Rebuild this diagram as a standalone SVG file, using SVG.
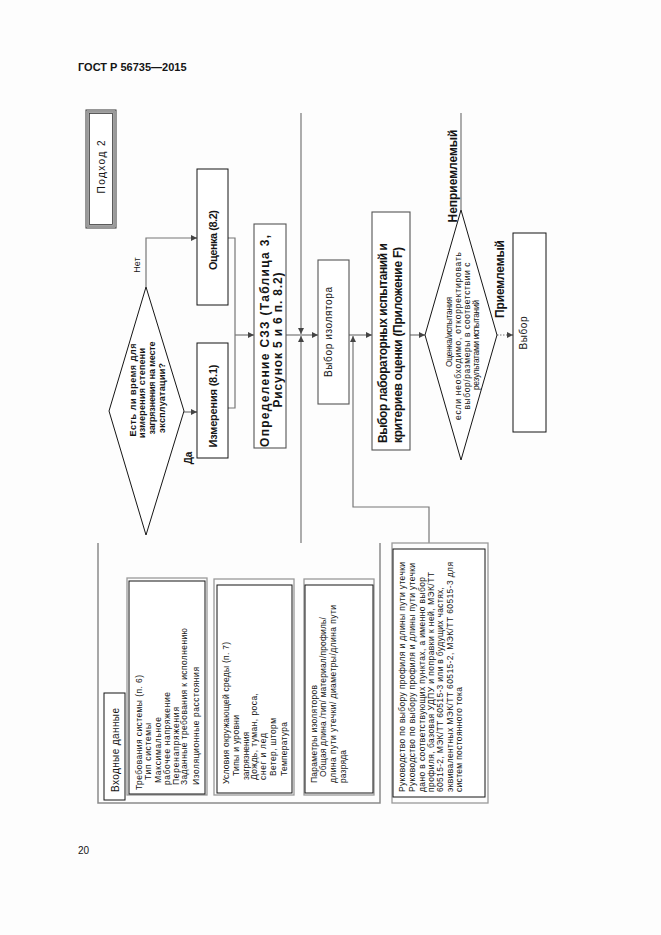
<svg xmlns="http://www.w3.org/2000/svg" width="661" height="935" viewBox="0 0 661 935">
<style>
text { font-family: "Liberation Sans", Arial, sans-serif; fill: #151515; }
.box { fill: #fff; stroke: #151515; stroke-width: 1; }
.gbox { fill: #fff; stroke: #555; stroke-width: 1.1; }
.shadow { fill: none; stroke: #9a9a9a; stroke-width: 1.3; }
.conn { fill: none; stroke: #777; stroke-width: 1.2; }
.b { font-weight: bold; }
.s { font-size: 8.5px; }
.m { text-anchor: middle; }
</style>
<defs>
<marker id="arr" markerWidth="6" markerHeight="6" refX="6" refY="3" orient="auto" markerUnits="userSpaceOnUse">
<path d="M0,0 L6,3 L0,6 z" fill="#444"/>
</marker>
</defs>
<rect width="661" height="935" fill="#fdfdfd"/>

<g id="header">
<text x="78" y="71" class="b" font-size="11">ГОСТ Р 56735—2015</text>
<text x="78" y="854" font-size="10">20</text>
</g>

<g id="connectors">
<path class="conn" d="M146,287 V238 H197" marker-end="url(#arr)"/>
<path class="conn" d="M184,412 H197" marker-end="url(#arr)"/>
<path class="conn" d="M228,238 H235 V408 H228"/>
<path class="conn" d="M235,335 H254" marker-end="url(#arr)"/>
<path class="conn" d="M286,335 H318" marker-end="url(#arr)"/>
<path class="conn" d="M301,113 V334" marker-end="url(#arr)"/>
<path class="conn" d="M301,543 V336" marker-end="url(#arr)"/>
<path class="conn" d="M349,335 H372" marker-end="url(#arr)"/>
<path class="conn" d="M429,543 V507 H353 V336" marker-end="url(#arr)"/>
<path class="conn" d="M410,335 H425" marker-end="url(#arr)"/>
<path class="conn" d="M497,335 H513" stroke-dasharray="1.5,1.5" marker-end="url(#arr)"/>
<path class="conn" d="M461,210 V113"/>
<path d="M98,543 V803 H380 V543" fill="none" stroke="#8a8a8a" stroke-width="1.5"/>
</g>

<g id="approach2">
<rect x="86" y="110" width="30" height="118" fill="#fff" stroke="#333" stroke-width="1"/>
<rect x="87.8" y="111.8" width="26.4" height="114.4" fill="none" stroke="#9a9a9a" stroke-width="2.2"/>
<rect x="89.5" y="113.5" width="23" height="111" fill="none" stroke="#333" stroke-width="0.8"/>
<text class="m" font-size="10" transform="translate(104.5,167) rotate(-90)" textLength="53">Подход 2</text>
</g>

<g id="decision1">
<polygon points="146,287 184,411 146,535 109,411" fill="#fff" stroke="#151515" stroke-width="1"/>
<text class="b m" font-size="9" transform="translate(136,390) rotate(-90)" textLength="93">Есть ли время для</text>
<text class="b m" font-size="9" transform="translate(145,393) rotate(-90)" textLength="90">измерения степени</text>
<text class="b m" font-size="9" transform="translate(155,388) rotate(-90)" textLength="93">загрязнения на месте</text>
<text class="b m" font-size="9" transform="translate(165,398) rotate(-90)" textLength="70">эксплуатации?</text>
</g>

<g id="label-net">
<text class="m" font-size="9" transform="translate(140,265) rotate(-90)">Нет</text>
</g>
<g id="label-da">
<text class="b m" font-size="10" transform="translate(191.5,458) rotate(-90)">Да</text>
</g>

<g id="ocenka">
<rect class="box" x="197" y="169" width="31" height="136"/>
<text class="b m" font-size="11" transform="translate(217,240) rotate(-90)" textLength="60">Оценка (8.2)</text>
</g>

<g id="izmereniya">
<rect class="box" x="197" y="343" width="31" height="115"/>
<text class="b m" font-size="11" transform="translate(217,406) rotate(-90)" textLength="83">Измерения (8.1)</text>
</g>

<g id="opredelenie">
<rect class="gbox" x="254" y="224" width="32" height="224"/>
<text class="b m" font-size="12" transform="translate(268.5,341) rotate(-90)" textLength="212">Определение СЗЗ (Таблица 3,</text>
<text class="b m" font-size="12" transform="translate(281.5,340) rotate(-90)" textLength="135">Рисунок 5 и 6 п. 8.2)</text>
</g>

<g id="vybor-izolyatora">
<rect class="gbox" x="318" y="260" width="31" height="144"/>
<text class="m" font-size="10" transform="translate(331.5,332) rotate(-90)" textLength="90">Выбор изолятора</text>
</g>

<g id="vybor-lab">
<rect class="gbox" x="372" y="212" width="38" height="238"/>
<text class="b m" font-size="12" transform="translate(386.5,343) rotate(-90)" textLength="200">Выбор лабораторных испытаний и</text>
<text class="b m" font-size="12" transform="translate(401.5,345) rotate(-90)" textLength="196">критериев оценки (Приложение F)</text>
</g>

<g id="decision2">
<polygon points="461,210 497,335 461,460 425,335" fill="#fff" stroke="#151515" stroke-width="1"/>
<text class="m" font-size="8.5" transform="translate(452,332) rotate(-90)" textLength="70">Оценка/испытания</text>
<text class="m" font-size="8.5" transform="translate(461,336) rotate(-90)" textLength="168">если необходимо, откорректировать</text>
<text class="m" font-size="8.5" transform="translate(470,336) rotate(-90)" textLength="147">выбор/размеры в соответствии с</text>
<text class="m" font-size="8.5" transform="translate(479,345) rotate(-90)" textLength="90">результатами испытаний</text>
</g>

<g id="label-nepriemlemyi">
<text class="b m" font-size="12" transform="translate(457,176) rotate(-90)" textLength="93">Неприемлемый</text>
</g>
<g id="label-priemlemyi">
<text class="b m" font-size="12" transform="translate(504,279) rotate(-90)" textLength="78">Приемлемый</text>
</g>

<g id="vybor">
<rect class="box" x="513" y="233" width="33" height="199"/>
<text class="m" font-size="10" transform="translate(526.5,333) rotate(-90)" textLength="33">Выбор</text>
</g>

<g id="vhodnye">
<rect class="box" x="104" y="693" width="21" height="107"/>
<text font-size="10" transform="translate(118.5,792) rotate(-90)" textLength="84">Входные данные</text>
</g>

<g id="trebovaniya">
<rect class="shadow" x="127" y="578" width="80" height="217"/>
<rect class="box" x="129" y="581" width="76" height="213"/>
<text class="s" transform="translate(142,790) rotate(-90)" textLength="115">Требования системы (п. 6)</text>
<text class="s" transform="translate(151,780) rotate(-90)" textLength="57">Тип системы</text>
<text class="s" transform="translate(160.5,783) rotate(-90)" textLength="66">Максимальное</text>
<text class="s" transform="translate(169.5,785) rotate(-90)" textLength="93">рабочее напряжение</text>
<text class="s" transform="translate(178.5,785) rotate(-90)" textLength="78">Перенапряжения</text>
<text class="s" transform="translate(187,785) rotate(-90)" textLength="157">Заданные требования к исполнению</text>
<text class="s" transform="translate(198.5,785) rotate(-90)" textLength="118">Изоляционные расстояния</text>
</g>

<g id="usloviya">
<rect class="shadow" x="214" y="579" width="80" height="216"/>
<rect class="box" x="217" y="585" width="75" height="208"/>
<text class="s" transform="translate(229,784) rotate(-90)" textLength="142">Условия окружающей среды (п. 7)</text>
<text class="s" transform="translate(239,776) rotate(-90)" textLength="61">Типы и уровни</text>
<text class="s" transform="translate(249,780) rotate(-90)" textLength="48">загрязнения</text>
<text class="s" transform="translate(257,780) rotate(-90)" textLength="87">Дождь, туман, роса,</text>
<text class="s" transform="translate(266,780) rotate(-90)" textLength="47">снег и лед</text>
<text class="s" transform="translate(276,776) rotate(-90)" textLength="58">Ветер, шторм</text>
<text class="s" transform="translate(286.5,776) rotate(-90)" textLength="54">Температура</text>
</g>

<g id="parametry">
<rect class="shadow" x="304" y="579" width="70" height="216"/>
<rect class="box" x="305" y="585" width="68" height="208"/>
<text class="s" transform="translate(317,783) rotate(-90)" textLength="98">Параметры изоляторов</text>
<text class="s" transform="translate(326,777) rotate(-90)" textLength="160">Общая  длина /тип/ материал/профиль/</text>
<text class="s" transform="translate(335.5,783) rotate(-90)" textLength="178">длина пути утечки/ диаметры/длина пути</text>
<text class="s" transform="translate(345.5,783) rotate(-90)" textLength="33">разряда</text>
</g>

<g id="rukovodstvo">
<rect class="shadow" x="392" y="543" width="96" height="260"/>
<rect class="box" x="393" y="549" width="92" height="248"/>
<text class="s" transform="translate(405,792) rotate(-90)" textLength="230">Руководство по выбору профиля и длины пути утечки</text>
<text class="s" transform="translate(414.5,792) rotate(-90)" textLength="229">Руководство по выбору профиля и длины пути утечки</text>
<text class="s" transform="translate(424.5,792) rotate(-90)" textLength="215">дано в соответствующих пунктах, а именно  выбор</text>
<text class="s" transform="translate(433.5,792) rotate(-90)" textLength="220">профиля, базовая УДПУ и поправки к ней, МЭК/ТТ</text>
<text class="s" transform="translate(443,792) rotate(-90)" textLength="205">60515-2, МЭК/ТТ 60515-3 или в будущих частях,</text>
<text class="s" transform="translate(452.5,792) rotate(-90)" textLength="230">эквивалентных МЭК/ТТ 60515-2, МЭК/ТТ 60515-3 для</text>
<text class="s" transform="translate(462,792) rotate(-90)" textLength="105">систем постоянного тока</text>
</g>
</svg>
